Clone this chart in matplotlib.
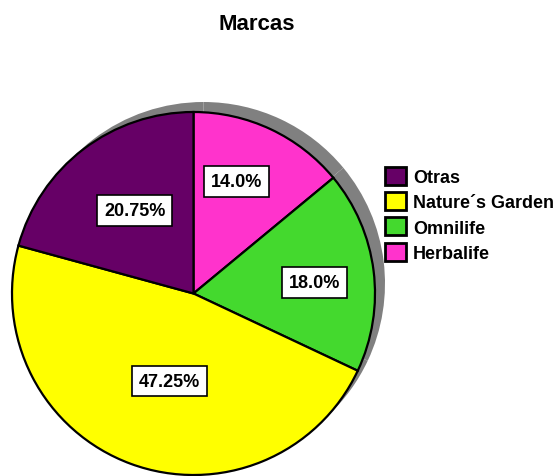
import matplotlib
matplotlib.use("Agg")
import matplotlib.pyplot as plt
import numpy as np

plt.rcParams['font.family'] = ['Liberation Sans', 'DejaVu Sans']

# datos (orden del pastel, en sentido horario desde arriba)
marcas = ["Herbalife", "Omnilife", "Nature´s Garden", "Otras"]
porcentajes = [14.0, 18.0, 47.25, 20.75]
etiquetas = ["14.0%", "18.0%", "47.25%", "20.75%"]
colores = ["#FF33CC", "#44D92E", "#FFFF00", "#660066"]

# posicion de cada etiqueta: fraccion del radio y giro respecto al centro de la porcion
dist_etiqueta = [0.66, 0.67, 0.50, 0.56]
giro_etiqueta = [4, -2, 5, -2]

W, H = 560, 477
fig = plt.figure(figsize=(W / 100, H / 100), dpi=100)
ax = fig.add_axes([0, 0, 1, 1])

cx, cy, R = 193.5, H - 294.5, 181.5

# sombra gris detras del pastel
ax.pie(porcentajes, center=(cx + 10, cy + 10), radius=R, startangle=90,
       counterclock=False, colors=["#808080"] * len(porcentajes),
       wedgeprops=dict(linewidth=0), frame=True)

wedges, _ = ax.pie(porcentajes, center=(cx, cy), radius=R, startangle=90,
                   counterclock=False, colors=colores,
                   wedgeprops=dict(edgecolor="black", linewidth=1.6), frame=True)
ax.set_xlim(0, W)
ax.set_ylim(0, H)
ax.set_aspect("equal")
ax.axis("off")

for w, txt, d, g in zip(wedges, etiquetas, dist_etiqueta, giro_etiqueta):
    ang = np.deg2rad((w.theta1 + w.theta2) / 2 + g)
    x = cx + d * R * np.cos(ang)
    y = cy + d * R * np.sin(ang)
    ax.text(x, y, txt, ha="center", va="center", fontsize=13, fontweight="bold",
            bbox=dict(boxstyle="square,pad=0.38", facecolor="white",
                      edgecolor="black", linewidth=1.2))

fig.text(257 / W, 1 - 25 / H, "Marcas", ha="center", va="center",
         fontsize=16, fontweight="bold")

leg = fig.legend(wedges[::-1], marcas[::-1], loc="upper left",
                 bbox_to_anchor=(385 / W, 1 - 168 / H), frameon=False,
                 prop=dict(size=13, weight="bold"), handlelength=1.15,
                 handleheight=1.15, handletextpad=0.4, labelspacing=0.34,
                 borderpad=0, borderaxespad=0)
for h in leg.legend_handles:
    h.set_edgecolor("black")
    h.set_linewidth(2)

plt.savefig("out.png", dpi=100)
